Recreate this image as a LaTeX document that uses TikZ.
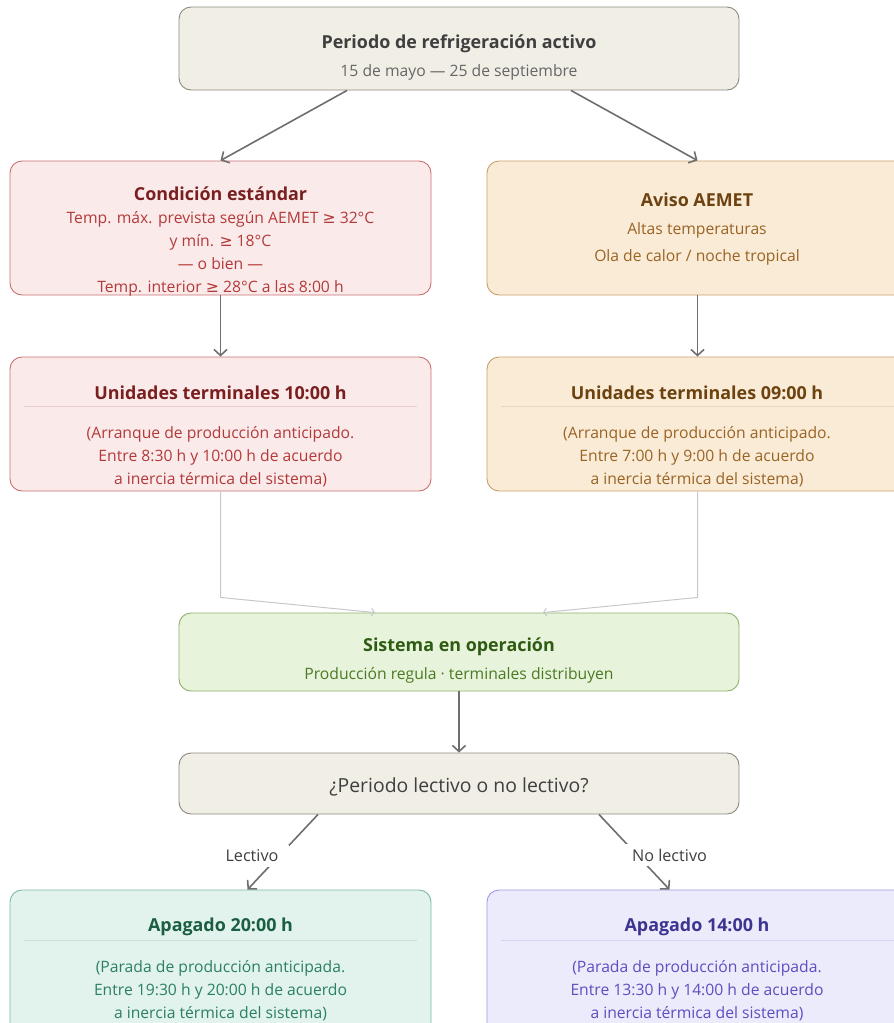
\documentclass[tikz,border=0pt]{standalone}
\usepackage{fontspec}
\setmainfont{Open Sans}
\newfontfamily\symf{DejaVu Sans}
\usetikzlibrary{arrows.meta,calc}
\newcommand{\mygeq}{{\symf ≥}}
\definecolor{topfill}{HTML}{F1EEE6}\definecolor{topdraw}{HTML}{8C8A80}
\definecolor{toptitle}{HTML}{3F3F3F}\definecolor{toptext}{HTML}{666666}
\definecolor{redfill}{HTML}{FBEAEA}\definecolor{reddraw}{HTML}{C97070}
\definecolor{redtitle}{HTML}{7A1F1F}\definecolor{redtext}{HTML}{B33A3A}\definecolor{redsep}{HTML}{E8D0D0}
\definecolor{orfill}{HTML}{FAEBD7}\definecolor{ordraw}{HTML}{C8A06A}
\definecolor{ortitle}{HTML}{6B4210}\definecolor{ortext}{HTML}{9A6424}\definecolor{orsep}{HTML}{E8D6C0}
\definecolor{grfill}{HTML}{E8F3DB}\definecolor{grdraw}{HTML}{8CB070}
\definecolor{grtitle}{HTML}{2E5B12}\definecolor{grtext}{HTML}{4B7A23}
\definecolor{tefill}{HTML}{E1F3EC}\definecolor{tedraw}{HTML}{7DBA9F}
\definecolor{tetitle}{HTML}{1B5E43}\definecolor{tetext}{HTML}{2B8062}\definecolor{tesep}{HTML}{C8E0D6}
\definecolor{pufill}{HTML}{ECEBFB}\definecolor{pudraw}{HTML}{9E96E3}
\definecolor{putitle}{HTML}{3C3490}\definecolor{putext}{HTML}{5B4FC2}\definecolor{pusep}{HTML}{D6D3F0}
\definecolor{conn}{HTML}{6E6E6E}\definecolor{lightconn}{HTML}{C8C8C8}
\tikzset{
  box/.style={rectangle, rounded corners=12pt, line width=0.9pt, inner sep=0pt},
  wide/.style={box, minimum width=560pt, minimum height=83pt},
  half/.style={box, minimum width=421pt, minimum height=134pt},
  ttl/.style={font=\fontsize{17.9}{21}\selectfont\bfseries, inner sep=0pt},
  txt/.style={font=\fontsize{15.7}{23}\selectfont, inner sep=0pt, align=center},
  arr/.style={draw=conn, line width=1.6pt, -{Straight Barb[length=6pt,width=13pt,line width=1.6pt]}},
  larr/.style={draw=lightconn, line width=1pt, -{Straight Barb[length=3pt,width=8pt,line width=1pt]}},
  lbl/.style={font=\fontsize{16.2}{18}\selectfont, text=toptitle, fill=white, inner sep=0pt, minimum height=22pt}
}
\begin{document}
\begin{tikzpicture}[x=1pt,y=-1pt]
\useasboundingbox (0,0) rectangle (894,1023);
\clip (0,0) rectangle (894,1023);
% top
\node[wide, fill=topfill, draw=topdraw] (top) at (459,48.5) {};
\node[ttl, text=toptitle] (toptitle) at (459,44) {Periodo de refrigeración activo};
\node[txt, text=toptext] (topsub) at (459,72) {15 de mayo — 25 de septiembre};
% condicion estandar
\node[half, fill=redfill, draw=reddraw] (cond) at (220.5,228) {};
\node[ttl, text=redtitle] (condtitle) at (220.5,194) {Condición estándar};
\node[txt, text=redtext, anchor=north] (condtext) at (220.5,211.5) {Temp. máx. prevista según AEMET \mygeq{} 32°C\\y mín. \mygeq{} 18°C\\— o bien —\\Temp. interior \mygeq{} 28°C a las 8:00 h};
% aviso
\node[half, fill=orfill, draw=ordraw] (aviso) at (697.5,228) {};
\node[ttl, text=ortitle] (avisotitle) at (697,200) {Aviso AEMET};
\node[txt, text=ortext] (avisol1) at (697,230) {Altas temperaturas};
\node[txt, text=ortext] (avisol2) at (697,257) {Ola de calor / noche tropical};
% unidades 10
\node[half, fill=redfill, draw=reddraw] (u10) at (220.5,424) {};
\node[ttl, text=redtitle] (u10title) at (220.5,393) {Unidades terminales 10:00 h};
\draw[redsep, line width=0.8pt] ([xshift=14pt,yshift=-50pt]u10.north west) coordinate (u10s1) -- ([xshift=-14pt,yshift=-50pt]u10.north east) coordinate (u10s2);
\node[txt, text=redtext, anchor=north] (u10text) at (220.5,426.5) {(Arranque de producción anticipado.\\Entre 8:30 h y 10:00 h de acuerdo\\a inercia térmica del sistema)};
% unidades 09
\node[half, fill=orfill, draw=ordraw] (u09) at (697.5,424) {};
\node[ttl, text=ortitle] (u09title) at (697,393) {Unidades terminales 09:00 h};
\draw[orsep, line width=0.8pt] ([xshift=14pt,yshift=-50pt]u09.north west) coordinate (u09s1) -- ([xshift=-14pt,yshift=-50pt]u09.north east) coordinate (u09s2);
\node[txt, text=ortext, anchor=north] (u09text) at (697,426.5) {(Arranque de producción anticipado.\\Entre 7:00 h y 9:00 h de acuerdo\\a inercia térmica del sistema)};
% sistema
\node[wide, minimum height=78pt, fill=grfill, draw=grdraw] (sis) at (459,652) {};
\node[ttl, text=grtitle] (sistitle) at (459,647) {Sistema en operación};
\node[txt, text=grtext] (sistext) at (459,675.5) {Producción regula · terminales distribuyen};
% periodo
\node[wide, minimum height=61pt, fill=topfill, draw=topdraw] (per) at (459,783.5) {};
\node[font=\fontsize{19.4}{22}\selectfont, text=toptitle, inner sep=0pt] (pertext) at (459,787) {¿Periodo lectivo o no lectivo?};
% apagado 20
\node[half, minimum height=150pt, fill=tefill, draw=tedraw] (a20) at (220.5,965) {};
\node[ttl, text=tetitle] (a20title) at (220.5,926.5) {Apagado 20:00 h};
\draw[tesep, line width=0.8pt] ([xshift=14pt,yshift=-51pt]a20.north west) coordinate (a20s1) -- ([xshift=-14pt,yshift=-51pt]a20.north east) coordinate (a20s2);
\node[txt, text=tetext, anchor=north] (a20text) at (220.5,960.5) {(Parada de producción anticipada.\\Entre 19:30 h y 20:00 h de acuerdo\\a inercia térmica del sistema)};
% apagado 14
\node[half, minimum height=150pt, fill=pufill, draw=pudraw] (a14) at (697.5,965) {};
\node[ttl, text=putitle] (a14title) at (697,926.5) {Apagado 14:00 h};
\draw[pusep, line width=0.8pt] ([xshift=14pt,yshift=-51pt]a14.north west) coordinate (a14s1) -- ([xshift=-14pt,yshift=-51pt]a14.north east) coordinate (a14s2);
\node[txt, text=putext, anchor=north] (a14text) at (697,960.5) {(Parada de producción anticipada.\\Entre 13:30 h y 14:00 h de acuerdo\\a inercia térmica del sistema)};
% connectors
\draw[arr] ([xshift=-112pt]top.south) -- (cond.north);
\draw[arr] ([xshift=112pt]top.south) -- (aviso.north);
\draw[arr] (cond.south) -- (u10.north);
\draw[arr] (aviso.south) -- (u09.north);
\draw[larr] (u10.south) -- ++(0,106) coordinate (u10k) -- ([xshift=-84pt]sis.north);
\draw[larr] (u09.south) -- ++(0,106) coordinate (u09k) -- ([xshift=84pt]sis.north);
\draw[arr] (sis.south) -- (per.north);
\draw[arr] ([xshift=-141pt]per.south) -- ([xshift=27pt]a20.north);
\draw[arr] ([xshift=140pt]per.south) -- ([xshift=-28pt]a14.north);
\node[lbl, minimum width=74pt] (llect) at (252,856) {Lectivo};
\node[lbl, minimum width=98pt] (lnolect) at (669.5,855) {No lectivo};
\end{tikzpicture}
\end{document}
